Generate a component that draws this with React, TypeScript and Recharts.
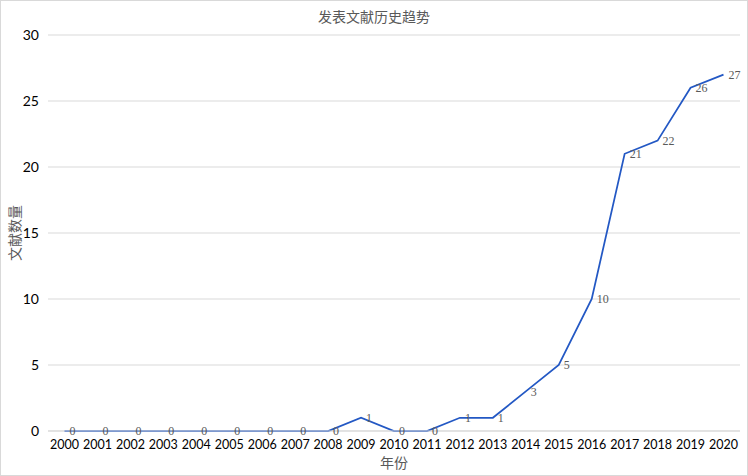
import { LineChart, Line, XAxis, YAxis, CartesianGrid, LabelList } from 'recharts'

const YEARS = ['2000', '2001', '2002', '2003', '2004', '2005', '2006', '2007', '2008', '2009', '2010',
  '2011', '2012', '2013', '2014', '2015', '2016', '2017', '2018', '2019', '2020']
const COUNTS = [0, 0, 0, 0, 0, 0, 0, 0, 0, 1, 0, 0, 1, 1, 3, 5, 10, 21, 22, 26, 27]
const Y_TICKS = [0, 5, 10, 15, 20, 25, 30]

const TITLE = '发表文献历史趋势'
const X_LABEL = '年份'
const Y_LABEL = '文献数量'

const serif = '"Liberation Serif", "DejaVu Serif", "Noto Sans CJK SC", serif'
const sans = 'Lato, "Noto Sans", "Liberation Sans", sans-serif'

export default function App() {
  const data = YEARS.map((y, i) => ({ year: y, count: COUNTS[i] }))

  return (
    <div style={{ position: 'fixed', left: 0, top: 0, width: 748, height: 476, background: '#fff', boxSizing: 'border-box', border: '1px solid #d9d9d9' }}>
      <LineChart width={746} height={474} data={data} margin={{ top: 34, right: 7, bottom: 13, left: 0 }}>
        <CartesianGrid stroke="#d9d9d9" vertical={false} />
        <XAxis
          dataKey="year"
          interval={0}
          padding={{ left: 16.5, right: 16.5 }}
          axisLine={{ stroke: '#d9d9d9' }}
          tickLine={false}
          tickSize={0}
          tickMargin={9}
          height={31}
          tick={{ fontSize: 12.5, fill: '#000', fontFamily: sans }}
        />
        <YAxis
          domain={[0, 30]}
          ticks={Y_TICKS}
          width={47}
          axisLine={false}
          tickLine={false}
          tickSize={0}
          tickMargin={9}
          tick={{ fontSize: 14, fill: '#000', fontFamily: sans }}
        />
        <Line
          type="linear"
          dataKey="count"
          stroke="#2358c4"
          strokeWidth={1.75}
          dot={false}
          activeDot={false}
          isAnimationActive={false}
        >
          <LabelList dataKey="count" position="right" offset={5} style={{ fontSize: 12, fill: '#595959', fontFamily: serif }} />
        </Line>
        <text x={373} y={16} textAnchor="middle" dominantBaseline="central" fontSize={14} fill="#595959" fontFamily={serif}>{TITLE}</text>
        <text x={393} y={462} textAnchor="middle" dominantBaseline="central" fontSize={14} fill="#595959" fontFamily={serif}>{X_LABEL}</text>
        <text x={14} y={232} textAnchor="middle" dominantBaseline="central" fontSize={14} fill="#595959" fontFamily={serif} transform="rotate(-90 14 232)">{Y_LABEL}</text>
      </LineChart>
    </div>
  )
}
